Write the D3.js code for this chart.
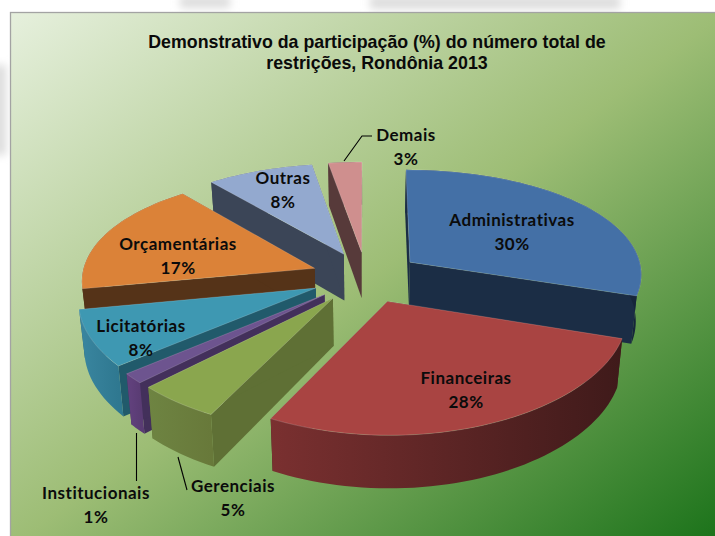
<!DOCTYPE html>
<html><head><meta charset="utf-8">
<script src="https://cdnjs.cloudflare.com/ajax/libs/d3/7.8.5/d3.min.js"></script>
<style>html,body{margin:0;padding:0;background:#fff;overflow:hidden}svg{display:block}</style>
</head><body><svg id="c" width="715" height="536"></svg>
<script>
const categories = ["Administrativas","Financeiras","Gerenciais","Institucionais","Licitatórias","Orçamentárias","Outras","Demais"];
const values = [30,27.5,5.1,1.4,8.0,17.1,8.3,2.6];
const titleLines = ["Demonstrativo da participação (%) do número total de","restrições, Rondônia 2013"];

const topColors  = ["#4470a6","#a94442","#8aa64e","#6d548f","#3e98b2","#db8238","#93a9cf","#cf8f8e"];
const edgeColors = ["#1b2d45","#451c1c","#5f7035","#43305b","#215a6b","#553318","#3b4557","#573a3a"];
const wallFrom   = ["#1b2d45","#7a3030","#6e8442","#63427f","#3a86a0","#553318","#3b4557","#573a3a"];
const wallTo     = ["#16253a","#3f1a1a","#68793a","#5a3c74","#2f7890","#553318","#3b4557","#573a3a"];
const labelXY = [[512,221],[466,379],[233,487],[96,494],[141,327],[178,245],[283,179],[406,136]];
const leaders = {7:[[344,161],[362,136],[372,136]],3:[[136.5,433],[136.5,481]],2:[[178,457],[187,490]]};
const drawOrder = [7,6,0,5,4,3,2,1];

const cx=366, cy=277, R=233, E=55, k=0.466, PX=0.10, PY=0.135, D=47, SHRINK=0.98;
const svg=d3.select("#c");
const defs=svg.append("defs");

const bg=defs.append("linearGradient").attr("id","bg")
  .attr("x1",0).attr("y1",0).attr("x2",1).attr("y2",1);
[[0,"#e6f0dd"],[0.5,"#9dbd75"],[1,"#187118"]].forEach(s=>bg.append("stop").attr("offset",s[0]).attr("stop-color",s[1]));
defs.append("filter").attr("id","blur").attr("x","-50%").attr("y","-50%").attr("width","200%").attr("height","200%")
  .append("feGaussianBlur").attr("stdDeviation",4);

// faint washed-out backdrop visible around the plate
const ghost=svg.append("g").attr("filter","url(#blur)").attr("fill","#dcdcdc");
[[180,-4,50,12],[370,-4,250,13],[-6,65,12,90]].forEach(r=>ghost.append("rect").attr("x",r[0]).attr("y",r[1]).attr("width",r[2]).attr("height",r[3]));

svg.append("rect").attr("x",10.5).attr("y",12.5).attr("width",715).attr("height",535)
  .attr("fill","url(#bg)").attr("stroke","#a3a3a3").attr("stroke-width",1.3);

const pie=d3.pie().sort(null).startAngle(0).endAngle(2*Math.PI);
const arcs=pie(values);
// disc geometry: world coordinates on the pie plane, projected with mild perspective
function project(X,Y,z){
  const sx=1/(1-PX*Y/R), sy=1/(1-PY*Y/R);
  const f=z?SHRINK:1;
  return [cx+X*sx*f, cy+k*Y*sy*f+(z?D*sy:0)];
}
function worldPoint(a,mid,r){
  return [E*Math.sin(mid)+r*Math.sin(a), -E*Math.cos(mid)-r*Math.cos(a)];
}
const line=d3.line();
const g=svg.append("g");

drawOrder.forEach(i=>{
  const d=arcs[i], mid=(d.startAngle+d.endAngle)/2;
  const angleAt=d3.scaleLinear().domain([0,1]).range([d.startAngle,d.endAngle]);
  const ts=d3.range(0,1.0001,1/Math.max(6,Math.round((d.endAngle-d.startAngle)*30)));
  const topArc=ts.map(t=>worldPoint(angleAt(t),mid,R));
  const apex=worldPoint(mid,mid,0);
  const p0=z=>project(apex[0],apex[1],z);
  const arcP=z=>topArc.map(w=>project(w[0],w[1],z));
  const a0=arcP(0), a1=arcP(1);
  const xs=a0.map(p=>p[0]);
  const gid="w"+i;
  const lg=defs.append("linearGradient").attr("id",gid).attr("gradientUnits","userSpaceOnUse")
    .attr("x1",d3.min(xs)).attr("y1",0).attr("x2",d3.max(xs)).attr("y2",0);
  lg.append("stop").attr("offset",0).attr("stop-color",wallFrom[i]);
  lg.append("stop").attr("offset",1).attr("stop-color",wallTo[i]);

  const s=g.append("g");
  // two cut faces
  [[a0[0],a1[0]],[a0[a0.length-1],a1[a1.length-1]]].forEach(e=>{
    s.append("path").attr("d",line([p0(0),e[0],e[1],p0(1)])+"Z").attr("fill",edgeColors[i]);
  });
  // outer rim
  s.append("path").attr("d",line(a0.concat(a1.slice().reverse()))+"Z").attr("fill",`url(#${gid})`);
  // top face
  s.append("path").attr("d",line([p0(0)].concat(a0))+"Z").attr("fill",topColors[i])
    .attr("stroke","#ffffff").attr("stroke-opacity",0.25).attr("stroke-width",0.7);
});

// leader lines
Object.values(leaders).forEach(pts=>{
  svg.append("path").attr("d",line(pts)).attr("fill","none").attr("stroke","#000").attr("stroke-width",1.1);
});

// labels
categories.forEach((c,i)=>{
  const t=svg.append("text").attr("text-anchor","middle")
    .attr("font-family","Lato, 'Open Sans', sans-serif").attr("font-weight",700)
    .attr("font-size",17).attr("letter-spacing",0.5).attr("fill","#0b0b0b");
  t.append("tspan").attr("x",labelXY[i][0]).attr("y",labelXY[i][1]+5).text(c);
  t.append("tspan").attr("x",labelXY[i][0]).attr("y",labelXY[i][1]+29).text(Math.round(values[i])+"%");
});

// title
titleLines.forEach((l,i)=>{
  svg.append("text").attr("x",377).attr("y",48+i*21).attr("text-anchor","middle")
    .attr("font-family","'Liberation Sans', Arial, sans-serif").attr("font-weight",700)
    .attr("font-size",17.8).attr("fill","#0a0a0a").text(l);
});
</script></body></html>
